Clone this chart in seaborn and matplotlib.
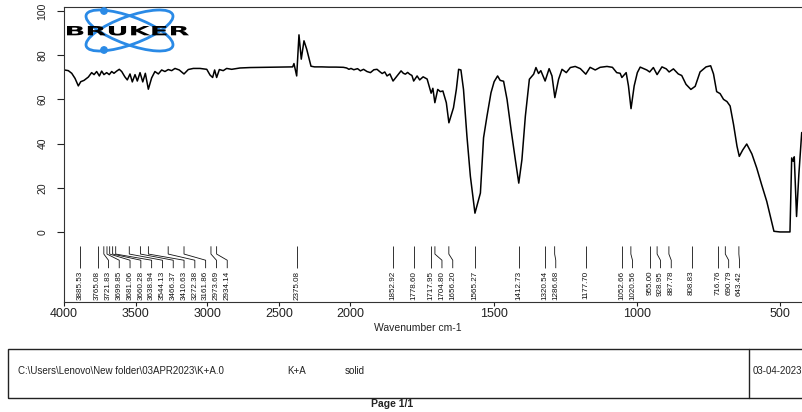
import numpy as np
import matplotlib
matplotlib.use("Agg")
import matplotlib.pyplot as plt
import seaborn as sns
from matplotlib.patches import Ellipse, Circle, Rectangle, PathPatch
from matplotlib.textpath import TextPath
from matplotlib.font_manager import FontProperties
from matplotlib.transforms import Affine2D

sns.set_theme(style="ticks")
plt.rcParams["font.family"] = ["Liberation Sans", "DejaVu Sans"]

# ── spectrum (wavenumber cm-1 / %T) ────────────────────────────────────────
wn_oh = [3996, 3970, 3946, 3923, 3900, 3883, 3860, 3830, 3807, 3790, 3772, 3753,
         3737, 3721, 3702, 3684, 3667, 3651, 3632, 3614, 3597, 3575, 3558, 3539,
         3523, 3504, 3488, 3469, 3450, 3432, 3411, 3388, 3365, 3341, 3318, 3295]
t_oh = [73.3, 73.0, 71.8, 69.5, 66.1, 68.0, 68.6, 70.1, 72.1, 71.2, 72.6, 70.6,
        72.8, 71.2, 72.1, 71.2, 72.6, 71.8, 72.8, 73.6, 72.6, 70.2, 68.8, 71.5,
        67.9, 71.2, 68.3, 72.1, 67.9, 71.8, 64.6, 69.7, 72.6, 71.5, 73.3, 72.6]

wn_ch = [3272, 3248, 3225, 3195, 3162, 3132, 3097, 3050, 3003, 2980, 2962, 2948,
         2934, 2915, 2888, 2864, 2829, 2771, 2700, 2600, 2500, 2403, 2394, 2375,
         2359, 2343, 2324, 2305, 2275, 2250, 2200, 2150, 2100, 2049, 2026, 2010]
t_ch = [73.5, 73.0, 74.0, 73.3, 71.5, 73.5, 74.0, 74.0, 73.6, 71.0, 69.9, 73.3,
        69.9, 73.5, 73.0, 74.0, 73.6, 74.2, 74.4, 74.5, 74.6, 74.7, 76.2, 70.6,
        89.2, 78.2, 86.5, 82.7, 75.0, 74.7, 74.7, 74.6, 74.6, 74.5, 74.2, 73.6]

wn_co = [1998, 1988, 1975, 1965, 1954, 1942, 1930, 1918, 1907, 1897, 1889, 1880,
         1872, 1862, 1851, 1837, 1823, 1815, 1808, 1800, 1793, 1785, 1779, 1767,
         1758, 1746, 1732, 1725, 1718, 1712, 1705, 1695, 1686, 1677, 1665, 1656,
         1640, 1630, 1622, 1614, 1605, 1593, 1581, 1565, 1546, 1535, 1523, 1509]
t_co = [74.0, 73.4, 73.9, 72.9, 73.6, 72.6, 72.1, 73.4, 73.6, 72.5, 71.7, 72.4,
        70.6, 71.5, 68.3, 70.6, 72.9, 71.8, 71.4, 72.2, 71.4, 70.8, 68.3, 70.6,
        68.8, 70.2, 69.2, 66.0, 62.8, 65.0, 58.5, 64.5, 63.5, 63.8, 58.5, 49.4,
        56.2, 64.5, 73.6, 73.3, 64.5, 43.3, 25.2, 8.5, 17.6, 42.6, 52.4, 63.0]

wn_fp = [1498, 1486, 1477, 1465, 1453, 1439, 1424, 1412, 1401, 1389, 1375, 1360,
         1352, 1343, 1335, 1320, 1306, 1296, 1286, 1273, 1261, 1246, 1232, 1215,
         1197, 1178, 1163, 1145, 1128, 1104, 1085, 1070, 1058, 1052, 1037, 1029,
         1020, 1009, 998, 988, 965, 955, 942, 929, 912, 897, 887, 872]
t_fp = [68.0, 70.6, 68.6, 68.2, 60.0, 46.4, 32.7, 22.1, 32.7, 52.4, 69.1, 71.4,
        74.4, 71.7, 73.0, 68.3, 73.9, 70.6, 60.8, 69.1, 73.6, 72.1, 74.4, 74.9,
        73.9, 71.4, 74.5, 73.3, 74.5, 74.9, 74.5, 72.1, 71.8, 69.9, 72.1, 66.1,
        55.8, 66.1, 72.1, 74.6, 73.3, 72.4, 74.4, 71.2, 74.7, 73.8, 72.4, 73.8]

wn_low = [855, 843, 828, 811, 796, 779, 758, 742, 732, 721, 709, 697,
          685, 674, 662, 650, 642, 630, 616, 598, 581, 564, 546, 529,
          521, 500, 480, 465, 459, 454, 450, 442, 434, 424]
t_low = [71.5, 70.8, 66.8, 64.5, 65.9, 72.4, 74.7, 75.2, 71.5, 63.5, 62.6, 60.0,
         59.0, 57.0, 48.6, 38.8, 34.2, 37.1, 39.8, 35.3, 28.9, 21.4, 13.8, 4.7,
         0.3, 0.0, 0.0, 0.0, 33.5, 32.0, 34.0, 7.0, 26.0, 45.0]

peaks = [3885.53, 3765.08, 3721.83, 3699.85, 3681.06, 3660.28, 3638.94, 3544.13,
         3466.37, 3410.63, 3272.38, 3161.86, 2973.69, 2934.14, 2375.08, 1852.92,
         1778.60, 1717.95, 1704.80, 1656.20, 1565.27, 1412.73, 1320.54, 1286.68,
         1177.70, 1052.66, 1020.56, 955.00, 928.95, 887.78, 808.83, 716.76,
         690.79, 643.42]

x_ticks = [4000, 3500, 3000, 2500, 2000, 1500, 1000, 500]
y_ticks = [0, 20, 40, 60, 80, 100]

file_path = r"C:\Users\Lenovo\New folder\03APR2023\K+A.0"
sample_name = "K+A"
sample_form = "solid"
meas_date = "03-04-2023"

wavenumber = np.array(wn_oh + wn_ch + wn_co + wn_fp + wn_low, dtype=float)
transmittance = np.array(t_oh + t_ch + t_co + t_fp + t_low, dtype=float)
assert len(wavenumber) == len(transmittance)

W, H = 802, 412


def fx(px):
    return px / W


def fy(py):
    return 1 - py / H


# OPUS style axis: region above 2000 cm-1 compressed by two
def fwd(w):
    w = np.asarray(w, dtype=float)
    return np.where(w > 2000, 2000 + (w - 2000) / 2, w)


def inv(f):
    f = np.asarray(f, dtype=float)
    return np.where(f > 2000, 2000 + (f - 2000) * 2, f)


fig = plt.figure(figsize=(W / 100, H / 100), dpi=100, facecolor="white")
ax = fig.add_axes([fx(64), fy(302), fx(W - 64), (302 - 7) / H])
ax.set_facecolor("white")

sns.lineplot(x=wavenumber, y=transmittance, ax=ax, sort=False, estimator=None,
             color="black", linewidth=1.1)

ax.set_xscale("function", functions=(fwd, inv))
ax.set_xlim(4000, 423)
ax.set_ylim(-31.7, 101.8)
ax.set_xticks(x_ticks)
ax.set_xticklabels([str(t) for t in x_ticks])
ax.set_yticks(y_ticks)
ax.set_yticklabels([str(t) for t in y_ticks], rotation=90, va="center")
ax.tick_params(axis="x", direction="out", length=3, width=0.8, labelsize=9,
               pad=1.5, colors="#222222")
ax.tick_params(axis="y", direction="out", length=5, width=0.8, labelsize=7.5,
               pad=7, colors="#222222")
for side in ["left", "bottom", "top"]:
    ax.spines[side].set_color("#333333")
    ax.spines[side].set_linewidth(0.8)
ax.spines["right"].set_visible(False)
ax.set_xlabel("Wavenumber cm-1", fontsize=7.5, color="#222222")
ax.xaxis.set_label_coords(0.48, -0.07)
ax.set_ylabel("")

# ── peak picks with spread labels ─────────────────────────────────────────
pk = np.array(sorted(peaks, reverse=True))
px = ax.transData.transform(np.column_stack([pk, np.zeros(len(pk))]))[:, 0]
lab_px = px.copy()
gap = 10.8
for i in range(1, len(lab_px)):
    lab_px[i] = max(px[i], lab_px[i - 1] + gap)
lab_w = ax.transData.inverted().transform(
    np.column_stack([lab_px, np.zeros(len(pk))]))[:, 0]

for w, lw_ in zip(pk, lab_w):
    ax.plot([w, w, lw_, lw_], [-6.5, -10.0, -12.8, -16.4], color="#111111",
            linewidth=0.6, solid_capstyle="butt")
    ax.text(lw_, -17.6, f"{w:.2f}", rotation=90, ha="center", va="top",
            fontsize=5.8, color="#111111")

# ── Bruker logo ────────────────────────────────────────────────────────────
lax = fig.add_axes([fx(60), fy(56), fx(140), 53 / H])
lax.set_xlim(60, 200)
lax.set_ylim(H - 56, H - 3)
lax.axis("off")
blue = "#2a8ae6"
cx, cy = 129.5, H - 30.5
for ang in (-20, 20):
    lax.add_patch(Ellipse((cx, cy), 92, 28, angle=ang, fill=False,
                          edgecolor=blue, linewidth=2.0))
lax.add_patch(Circle((104, H - 11), 3.2, color=blue))
lax.add_patch(Circle((104, H - 50), 3.2, color=blue))
tp = TextPath((0, 0), "BRUKER", size=10,
              prop=FontProperties(family="DejaVu Sans", weight="bold"))
bb = tp.get_extents()
tr = (Affine2D().translate(-bb.x0, -bb.y0)
      .scale(122 / bb.width, 9.5 / bb.height).translate(67, H - 35.5))
lax.add_patch(PathPatch(tr.transform_path(tp), facecolor="black",
                        edgecolor="none", zorder=5))

# ── footer box ─────────────────────────────────────────────────────────────
fig.add_artist(Rectangle((fx(8), fy(398)), fx(W), 49 / H, fill=False,
                         edgecolor="#222222", linewidth=1.0,
                         transform=fig.transFigure))
fig.add_artist(plt.Line2D([fx(749), fx(749)], [fy(349), fy(398)],
                          color="#222222", linewidth=1.0,
                          transform=fig.transFigure))
fig.text(fx(18), fy(371), file_path, fontsize=7, va="center", color="#222222")
fig.text(fx(287), fy(371), sample_name, fontsize=7, va="center", color="#222222")
fig.text(fx(345), fy(371), sample_form, fontsize=7, va="center", color="#222222")
fig.text(fx(753), fy(371), meas_date, fontsize=7, va="center", color="#222222")
fig.text(fx(392), fy(404), "Page 1/1", fontsize=7.5, fontweight="bold",
         ha="center", va="center", color="#222222")

fig.savefig("out.png", dpi=100, facecolor="white")
